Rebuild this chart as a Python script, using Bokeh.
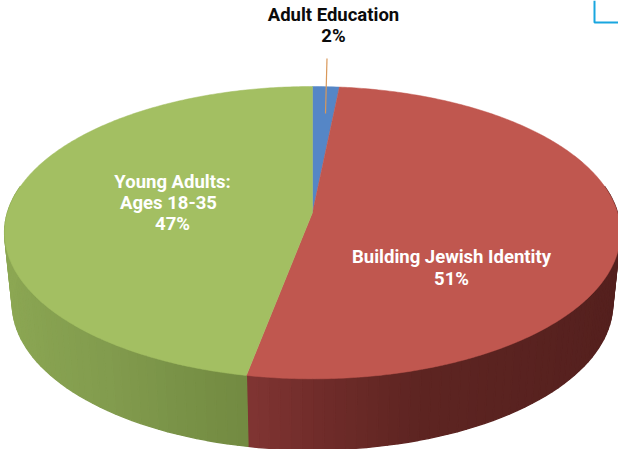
import numpy as np
from bokeh.plotting import figure
from bokeh.models import Range1d
from bokeh.core.properties import value
from bokeh.embed import file_html
from bokeh.resources import INLINE

categories = ["Adult Education", "Building Jewish Identity", "Young Adults: Ages 18-35"]
shares = [1.6, 51.4, 47.0]
printed = ["2%", "51%", "47%"]
top_colors = ["#5586C6", "#C0574F", "#A3BF62"]
red_wall = [(-0.2, (130, 54, 52)), (0.0, (114, 45, 43)), (0.3, (94, 37, 34)), (1.0, (84, 32, 30))]
green_wall = [(-1.0, (141, 168, 84)), (-0.6, (130, 156, 78)), (-0.2, (115, 139, 66))]

CX, CY, B, A, K, DEPTH, SHRINK = 312.0, 212.0, 305.0, 143.4, 0.138, 71.0, 0.975


def project(turn, drop=0.0, scale=1.0):
    a = 2 * np.pi * np.asarray(turn) / 100.0
    X, Y = np.sin(a), np.cos(a)
    f = 1 + K * Y
    return CX + scale * B * X / f, CY - A * Y / f + drop


def wall_color(turn, stops):
    pos = np.sin(2 * np.pi * turn / 100)
    return "#%02x%02x%02x" % tuple(
        int(np.interp(pos, [s[0] for s in stops], [s[1][c] for s in stops])) for c in range(3))


p = figure(width=618, height=449, output_backend="svg", toolbar_location=None,
           x_range=Range1d(0, 618), y_range=Range1d(449, 0),
           min_border=0, outline_line_color=None, background_fill_color="white",
           border_fill_color="white")
p.axis.visible = False
p.grid.visible = False

# side wall: near half only, one band per half percent
wedge_end = shares[0] + shares[1]
xs, ys, cols = [], [], []
for t0 in np.arange(22.0, 78.0, 0.5):
    t1 = t0 + 0.5
    x0, y0 = project(t0)
    x1, y1 = project(t1)
    x2, y2 = project(t1, DEPTH, SHRINK)
    x3, y3 = project(t0, DEPTH, SHRINK)
    xs.append([float(v) for v in (x0, x1, x2, x3)])
    ys.append([float(v) for v in (y0, y1, y2, y3)])
    cols.append(wall_color(t0 + 0.25, red_wall if t0 < wedge_end else green_wall))
p.patches(xs, ys, fill_color=cols, line_color=cols, line_width=1.3)

# top face, one wedge per value
start = 0.0
for share, color in zip(shares, top_colors):
    turns = np.linspace(start, start + share, max(8, int(share * 6)))
    ex, ey = project(turns)
    p.patch([CX, *ex.tolist()], [CY, *ey.tolist()], fill_color=color, line_color=color, line_width=0.5)
    start += share

# leader and page corner
p.line([326.5, 325], [58, 113], line_color="#D9985A", line_width=1.2)
p.line([594, 594, 618], [0, 22, 22], line_color="#19A6DF", line_width=2)

font = value("Roboto")


def label(x, y, text, color):
    p.text([x], [y], text=[text], text_color=color, text_font=font, text_font_style="bold",
           text_font_size="18.5px", text_align="center", text_baseline="middle")


label(333, 14, "Adult Education", "#0b0b0b")
label(333, 35, printed[0], "#0b0b0b")
label(172, 181, "Young Adults:", "white")
label(168, 202, "Ages 18-35", "white")
label(172, 223, printed[2], "white")
label(451, 256, "Building Jewish Identity", "white")
label(451, 278, printed[1], "white")

open("out.html", "w").write(file_html(p, INLINE))
